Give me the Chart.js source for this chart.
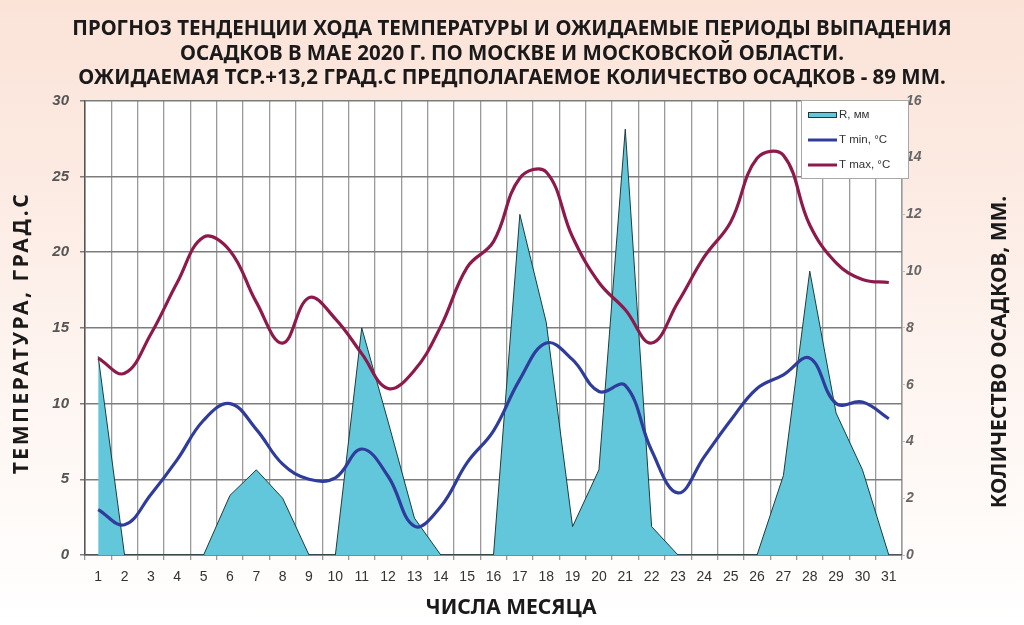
<!DOCTYPE html>
<html>
<head>
<meta charset="utf-8">
<script src="https://cdn.jsdelivr.net/npm/chart.js@4/dist/chart.umd.min.js"></script>
<style>
  html, body { margin: 0; padding: 0; }
  body {
    width: 1024px; height: 625px; overflow: hidden;
    background: linear-gradient(to bottom, #fbe3d8 0%, #fcebe3 30%, #fef6f2 65%, #ffffff 100%);
  }
  #wrap { position: relative; width: 1024px; height: 625px; }
</style>
</head>
<body>
<div id="wrap"><canvas id="chart"></canvas></div>
<script>
const days = ['1','2','3','4','5','6','7','8','9','10','11','12','13','14','15','16',
  '17','18','19','20','21','22','23','24','25','26','27','28','29','30','31'];

// осадки, мм (правая ось)
const rain = [7, 0, 0, 0, 0, 2.1, 3, 2, 0, 0, 8, 4.7, 1.3, 0, 0, 0,
  12, 8.2, 1, 3, 15, 1, 0, 0, 0, 0, 2.8, 10, 5, 3, 0];

// температура, °C (левая ось)
const tMin = [3, 2, 4, 6.3, 8.9, 10, 8.3, 6, 5, 5.1, 7, 5.2, 1.9, 3.2, 6.1, 8.2,
  11.6, 14, 12.9, 10.8, 11.2, 6.9, 4.1, 6.5, 8.9, 11, 11.9, 13, 10, 10.1, 9];
const tMax = [13, 12, 14.6, 18, 21, 20.1, 16.7, 14, 17, 15.6, 13.3, 11, 12.2, 15.1, 19, 20.7,
  24.9, 25.3, 21, 18, 16.2, 14, 16.7, 19.7, 22, 26.2, 26.4, 21.8, 19.3, 18.2, 18];

const tempTicks = [0, 5, 10, 15, 20, 25, 30];
const rainTicks = [0, 2, 4, 6, 8, 10, 12, 14, 16];

const titleLines = [
  'ПРОГНОЗ ТЕНДЕНЦИИ ХОДА ТЕМПЕРАТУРЫ И ОЖИДАЕМЫЕ ПЕРИОДЫ ВЫПАДЕНИЯ',
  'ОСАДКОВ В МАЕ 2020 Г. ПО МОСКВЕ И МОСКОВСКОЙ ОБЛАСТИ.',
  'ОЖИДАЕМАЯ ТСР.+13,2 ГРАД.С ПРЕДПОЛАГАЕМОЕ КОЛИЧЕСТВО ОСАДКОВ - 89 ММ.'
];

const HEAD_FONT = '"Noto Sans", sans-serif';

// white plot background
const plotBg = {
  id: 'plotBg',
  beforeDraw(chart) {
    const { ctx, chartArea: a } = chart;
    ctx.save();
    ctx.fillStyle = '#ffffff';
    ctx.fillRect(a.left, a.top, a.right - a.left, a.bottom - a.top);
    ctx.restore();
  }
};

// axis titles (the right one reads bottom-to-top, like the left one)
const axisTitles = {
  id: 'axisTitles',
  afterDraw(chart) {
    const { ctx } = chart;
    ctx.save();
    ctx.fillStyle = '#1a1a1a';
    ctx.font = 'bold 21px ' + HEAD_FONT;
    ctx.textAlign = 'center';
    ctx.textBaseline = 'middle';

    ctx.fillText('ЧИСЛА МЕСЯЦА', 511, 608);

    ctx.save();
    ctx.translate(1000, 352);
    ctx.rotate(-Math.PI / 2);
    ctx.fillText('КОЛИЧЕСТВО ОСАДКОВ, ММ.', 0, 0);
    ctx.restore();

    ctx.save();
    ctx.translate(22, 333);
    ctx.rotate(-Math.PI / 2);
    ctx.letterSpacing = '2.5px';
    ctx.fillText('ТЕМПЕРАТУРА, ГРАД.С', 0, 0);
    ctx.restore();

    ctx.restore();
  }
};

// legend box inside the plot, top right
const boxLegend = {
  id: 'boxLegend',
  afterDraw(chart) {
    const { ctx } = chart;
    const x = 801, y = 100, w = 107, h = 78;
    ctx.save();
    ctx.fillStyle = '#ffffff';
    ctx.strokeStyle = '#a8a8a8';
    ctx.lineWidth = 1;
    ctx.fillRect(x, y, w, h);
    ctx.strokeRect(x + 0.5, y + 0.5, w, h);

    ctx.font = '11.5px "Liberation Sans", Arial, sans-serif';
    ctx.textBaseline = 'middle';
    const order = [2, 1, 0];
    order.forEach((di, i) => {
      const ds = chart.data.datasets[di];
      const cy = y + 15 + i * 25;
      if (ds.fill) {
        ctx.fillStyle = ds.backgroundColor;
        ctx.fillRect(x + 7, cy - 3, 29, 6);
        ctx.strokeStyle = ds.borderColor;
        ctx.lineWidth = 1;
        ctx.strokeRect(x + 7.5, cy - 2.5, 28, 5);
      } else {
        ctx.strokeStyle = ds.borderColor;
        ctx.lineWidth = 3;
        ctx.beginPath();
        ctx.moveTo(x + 7, cy);
        ctx.lineTo(x + 36, cy);
        ctx.stroke();
      }
      ctx.fillStyle = '#333';
      ctx.fillText(ds.label, x + 38, cy);
    });
    ctx.restore();
  }
};

new Chart(document.getElementById('chart'), {
  type: 'line',
  data: {
    labels: days,
    datasets: [
      {
        label: 'T max, °C',
        data: tMax,
        yAxisID: 'y',
        borderColor: '#8e1a4c',
        borderWidth: 3.2,
        pointRadius: 0,
        tension: 0.4,
        fill: false,
        order: 1
      },
      {
        label: 'T min, °C',
        data: tMin,
        yAxisID: 'y',
        borderColor: '#2f3c9c',
        borderWidth: 3.2,
        pointRadius: 0,
        tension: 0.4,
        fill: false,
        order: 2
      },
      {
        label: 'R, мм',
        data: rain,
        yAxisID: 'y1',
        borderColor: '#1e3c3c',
        backgroundColor: '#62c7da',
        borderWidth: 1,
        pointRadius: 0,
        tension: 0,
        fill: 'origin',
        order: 3
      }
    ]
  },
  options: {
    responsive: true,
    maintainAspectRatio: false,
    animation: false,
    layout: { padding: 0 },
    plugins: {
      legend: { display: false },
      tooltip: { enabled: false },
      title: {
        display: true,
        text: titleLines,
        color: '#1a1a1a',
        font: { family: HEAD_FONT, size: 20.5, weight: 'bold', lineHeight: 1.2 },
        padding: { top: 17, bottom: 10 }
      }
    },
    scales: {
      x: {
        offset: true,
        grid: { offset: true, color: '#9a9a9a', lineWidth: 1.3, tickLength: 5 },
        border: { color: '#555', width: 1.5 },
        ticks: {
          autoSkip: false, maxRotation: 0, padding: 9,
          color: '#333',
          font: { family: '"Liberation Sans", Arial, sans-serif', size: 14 }
        },
        afterFit(s) { s.height = 70; }
      },
      y: {
        position: 'left',
        min: 0, max: 30,
        afterBuildTicks(s) { s.ticks = tempTicks.map(v => ({ value: v })); },
        grid: { color: '#7c7c7c', lineWidth: 1.5, tickLength: 5 },
        border: { color: '#555', width: 1.5 },
        ticks: {
          padding: 11,
          color: '#555',
          font: { family: '"Liberation Sans", Arial, sans-serif', size: 15, style: 'italic', weight: 'bold' }
        },
        afterFit(s) { s.width = 85; }
      },
      y1: {
        position: 'right',
        min: 0, max: 16,
        afterBuildTicks(s) { s.ticks = rainTicks.map(v => ({ value: v })); },
        grid: { drawOnChartArea: false, color: '#bbb', tickLength: 3 },
        border: { color: '#bbb', width: 1 },
        ticks: {
          padding: 1,
          color: '#666',
          font: { family: '"Liberation Sans", Arial, sans-serif', size: 14, style: 'italic', weight: 'bold' }
        },
        afterFit(s) { s.width = 122; }
      }
    }
  },
  plugins: [plotBg, axisTitles, boxLegend]
});
</script>
</body>
</html>
